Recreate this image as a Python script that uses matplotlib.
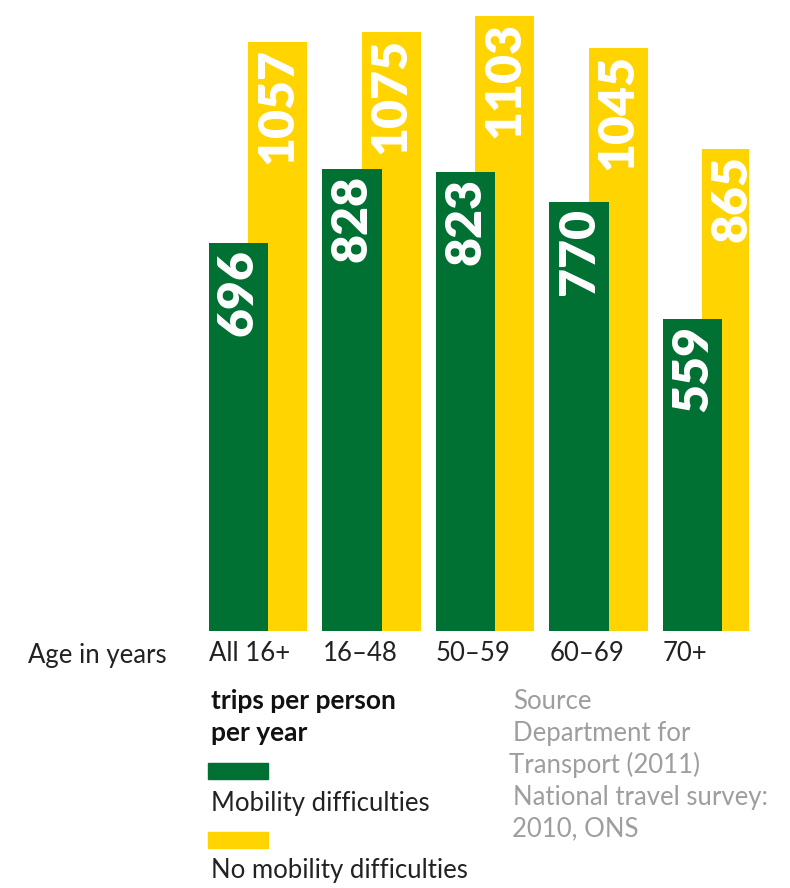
import matplotlib
matplotlib.use("Agg")
import matplotlib.pyplot as plt
import numpy as np

categories = ["All 16+", "16\u201348", "50\u201359", "60\u201369", "70+"]
mobility = [696, 828, 823, 770, 559]
no_mobility = [1057, 1075, 1103, 1045, 865]

GREEN = "#007033"
YELLOW = "#FFD400"

plt.rcParams["font.family"] = ["Lato", "DejaVu Sans"]

W, H = 790, 888
fig = plt.figure(figsize=(W / 100, H / 100), dpi=100)

pitch = 113.5
left_px = 238.5 - 0.5 * pitch
right_px = 238.5 + 4.5 * pitch
bottom_px = 631
ppu = 0.5575
ymax = 1120
top_px = bottom_px - ymax * ppu
ax = fig.add_axes([left_px / W, (H - bottom_px) / H, (right_px - left_px) / W, (bottom_px - top_px) / H])

x = np.arange(len(categories))
bw = 0.52
off = 0.344
ax.bar(x + off, no_mobility, width=bw, color=YELLOW, zorder=1)
ax.bar(x, mobility, width=bw, color=GREEN, zorder=2)

for xi, v in zip(x, mobility):
    ax.annotate(str(v), (xi, v), xytext=(0, -6), textcoords="offset pixels",
                rotation=90, ha="center", va="top", color="white",
                fontsize=36, fontweight="heavy", zorder=3)
for xi, v in zip(x, no_mobility):
    ax.annotate(str(v), (xi + off, v), xytext=(0, -6), textcoords="offset pixels",
                rotation=90, ha="center", va="top", color="white",
                fontsize=36, fontweight="heavy", zorder=3)

ax.set_xlim(-0.5, 4.5)
ax.set_ylim(0, ymax)
ax.set_yticks([])
ax.set_xticks(x - bw / 2)
ax.set_xticklabels(categories, ha="left", fontsize=18.5, color="#222222")
ax.tick_params(axis="x", length=0, pad=7)
for s in ax.spines.values():
    s.set_visible(False)

def ft(px, py, s, **kw):
    fig.text(px / W, 1 - py / H, s, **kw)

ft(28, 655, "Age in years", fontsize=18.5, color="#222222", va="center", ha="left")

ft(211, 701, "trips per person", fontsize=19, fontweight="bold", color="#111111", va="center")
ft(211, 733, "per year", fontsize=19, fontweight="bold", color="#111111", va="center")
fig.patches.append(plt.Rectangle((208 / W, 1 - 779 / H), 60 / W, 16 / H, color=GREEN, transform=fig.transFigure, figure=fig))
ft(211, 803, "Mobility difficulties", fontsize=18.5, color="#222222", va="center")
fig.patches.append(plt.Rectangle((208 / W, 1 - 848 / H), 60 / W, 16 / H, color=YELLOW, transform=fig.transFigure, figure=fig))
ft(211, 870, "No mobility difficulties", fontsize=18.5, color="#222222", va="center")

src = ["Source", "Department for", "Transport (2011)", "National travel survey:", "2010, ONS"]
src_x = [513, 513, 509, 513, 512]
for i, (s, sx) in enumerate(zip(src, src_x)):
    ft(sx, 701 + 32 * i, s, fontsize=18.5, color="#9e9e9e", va="center")

fig.savefig("out.png", dpi=100)
